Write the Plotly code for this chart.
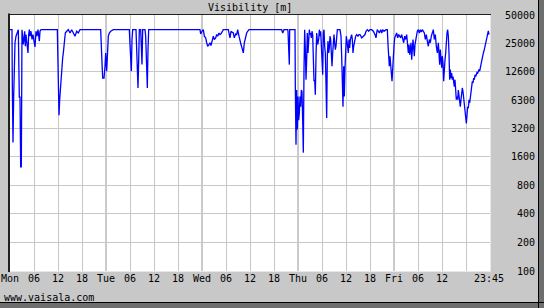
import plotly.graph_objects as go

# ---- data (hours since Mon 00:00, visibility in m) ----
hours = [
    0, 0.5, 0.58, 0.75, 0.92, 1.08, 1.25, 1.5, 1.83, 2.08,
    2.33, 2.5, 2.67, 2.83, 2.92, 3.0, 3.33, 3.5, 3.67, 3.83,
    4.0, 4.17, 4.33, 4.5, 4.67, 4.83, 5.0, 5.25, 5.5, 5.75,
    6.0, 6.25, 6.5, 6.75, 7.0, 7.33, 7.5, 7.75, 11.83, 11.92,
    12.08, 12.25, 12.42, 12.58, 12.75, 12.92, 13.17, 13.33, 13.58, 13.83,
    14.17, 14.58, 15.0, 15.42, 16.25, 16.67, 17.08, 17.5, 22.67, 22.83,
    23.0, 23.17, 23.5, 23.75, 23.92, 24.17, 24.33, 24.58, 24.83, 25.17,
    25.83, 29.83, 29.92, 30.08, 30.25, 30.33, 30.5, 30.67, 31.5, 31.67,
    31.92, 32.0, 32.17, 32.33, 32.67, 32.83, 33.0, 33.17, 33.75, 33.92,
    34.17, 34.33, 34.5, 34.67, 47.5, 47.67, 48.0, 48.33, 48.58, 48.92,
    49.17, 49.42, 49.67, 50.0, 50.25, 50.58, 50.83, 51.08, 51.42, 51.67,
    51.92, 52.25, 52.5, 52.75, 53.08, 53.33, 54.58, 54.67, 54.83, 55.0,
    55.25, 55.5, 55.83, 56.08, 56.42, 56.67, 56.92, 57.25, 57.5, 57.75,
    58.0, 58.33, 58.58, 58.83, 59.17, 59.42, 59.75, 67.92, 68.17, 68.5,
    69.42, 69.5, 69.67, 69.83, 69.92, 71.25, 71.33, 71.5, 71.67, 71.83,
    72.0, 72.17, 72.33, 72.5, 72.67, 72.83, 73.0, 73.17, 73.33, 73.5,
    73.67, 73.83, 74.0, 74.17, 74.33, 74.5, 74.67, 74.83, 75.0, 75.17,
    75.33, 75.5, 75.67, 75.83, 76.0, 76.17, 76.33, 76.5, 76.67, 76.92,
    77.17, 77.33, 77.5, 77.67, 77.83, 78.0, 78.17, 78.33, 78.5, 78.67,
    78.83, 79.0, 79.17, 79.33, 79.5, 79.67, 79.83, 80.0, 80.17, 80.33,
    80.5, 80.67, 80.83, 81.0, 81.17, 81.33, 81.5, 81.67, 81.83, 82.5,
    82.75, 82.92, 83.08, 83.25, 83.42, 83.58, 83.75, 83.92, 84.08, 84.25,
    84.42, 84.58, 84.75, 84.92, 85.08, 85.25, 85.42, 85.58, 85.75, 85.92,
    86.08, 86.25, 86.42, 86.67, 87.0, 87.25, 87.5, 87.92, 88.33, 88.75,
    89.0, 89.33, 89.67, 90.0, 90.42, 90.83, 91.25, 91.5, 91.67, 91.83,
    92.08, 92.33, 92.67, 92.92, 93.17, 93.5, 94.0, 94.33, 94.5, 94.67,
    94.83, 95.0, 95.17, 95.33, 95.5, 95.67, 95.83, 96.0, 96.17, 96.33,
    96.5, 96.67, 96.92, 97.17, 97.42, 97.67, 97.92, 98.17, 98.42, 98.67,
    98.92, 99.17, 99.42, 99.58, 99.75, 99.92, 100.08, 100.25, 100.42, 100.58,
    100.75, 100.92, 101.08, 101.25, 101.42, 101.58, 101.83, 102.08, 102.33, 102.58,
    102.83, 103.08, 103.33, 103.58, 103.83, 104.08, 104.33, 104.58, 104.83, 105.08,
    105.33, 105.58, 105.83, 106.08, 106.33, 106.58, 106.83, 107.08, 107.25, 107.42,
    107.58, 107.75, 107.92, 108.08, 108.25, 108.42, 108.58, 108.75, 108.92, 109.08,
    109.25, 109.42, 109.58, 109.75, 109.92, 110.08, 110.25, 110.42, 110.58, 110.75,
    110.92, 111.08, 111.25, 111.42, 111.58, 111.75, 111.92, 112.08, 112.25, 112.42,
    112.58, 112.75, 112.92, 113.08, 113.25, 113.42, 113.58, 113.75, 113.92, 114.08,
    114.25, 114.42, 114.58, 114.75, 114.92, 115.08, 115.25, 115.42, 115.58, 115.75,
    115.92, 116.08, 116.25, 116.42, 116.58, 116.75, 116.92, 117.08, 117.25, 117.42,
    117.58, 117.75, 117.92, 118.08, 118.25, 118.42, 118.58, 118.75, 118.92, 119.08,
    119.25, 119.42, 119.58, 119.75,
]
visibility = [
    35000, 35000, 9200, 2260, 6900, 19900, 25500, 29900, 33700, 35000,
    6800, 6800, 1250, 1250, 6800, 35000, 24400, 29900, 33700, 23400,
    31100, 26500, 19900, 19900, 31100, 35000, 29900, 33700, 27600, 31100,
    26500, 23000, 33700, 29900, 35000, 26500, 33700, 35000, 35000, 24400,
    12200, 4400, 6400, 8500, 8500, 12200, 17700, 19900, 25500, 32300,
    33700, 35000, 32300, 35000, 29900, 33700, 32300, 35000, 35000, 18400,
    15700, 10800, 10800, 14400, 19900, 12800, 19900, 29900, 32300, 33700,
    35000, 35000, 28700, 19900, 12800, 12800, 27600, 35000, 35000, 19900,
    13300, 8500, 16900, 35000, 35000, 23400, 15000, 35000, 35000, 29900,
    15700, 8500, 21600, 35000, 35000, 31600, 33700, 35000, 29900, 28700,
    25500, 23400, 24000, 25500, 23800, 26500, 29900, 27600, 28700, 31100,
    29900, 32300, 31100, 31600, 33000, 35000, 35000, 31100, 31100, 28700,
    33700, 33000, 32300, 28700, 31600, 31100, 35000, 29900, 25500, 24400,
    22500, 19900, 25500, 28700, 32300, 33700, 35000, 35000, 32300, 35000,
    35000, 33700, 22500, 15000, 35000, 35000, 8800, 2150, 8100, 3100,
    6900, 3900, 4600, 6900, 5400, 8100, 7800, 3900, 1770, 13300,
    35000, 21600, 10400, 16900, 32300, 19900, 33700, 35000, 31100, 32300,
    28700, 33700, 31100, 16900, 10000, 10400, 7200, 18400, 32300, 24400,
    27600, 35000, 29900, 33700, 19900, 16900, 11700, 32300, 35000, 23400,
    19900, 9600, 4100, 18400, 26500, 19900, 22500, 29900, 27600, 19900,
    14400, 19900, 27600, 31100, 25500, 21600, 23400, 27600, 35000, 35000,
    29900, 18400, 12200, 5400, 14400, 6900, 13900, 25500, 29900, 26500,
    23400, 19900, 27600, 22500, 27600, 29900, 31100, 27600, 19900, 23400,
    25500, 27600, 29900, 31100, 29900, 31100, 31100, 28700, 29900, 31100,
    33700, 35000, 33700, 35000, 35000, 33700, 31100, 28700, 32300, 35000,
    33700, 32300, 35000, 32300, 35000, 33700, 35000, 35000, 24400, 19900,
    14400, 18400, 13300, 12200, 10000, 13300, 19900, 23400, 28700, 29900,
    31100, 32300, 28700, 31100, 29900, 28700, 31100, 27600, 25500, 29900,
    27600, 31100, 23400, 19900, 24400, 19100, 21600, 25500, 16900, 23400,
    27600, 22500, 18400, 24400, 27600, 29900, 33700, 35000, 32300, 35000,
    33000, 35000, 33700, 32300, 27600, 31100, 26500, 23400, 27600, 25500,
    29900, 32300, 35000, 27600, 31100, 23400, 19900, 25500, 16900, 15000,
    21600, 16900, 13900, 18400, 15700, 10000, 14400, 16900, 19900, 27600,
    32300, 35000, 29900, 19900, 10400, 13300, 10800, 12200, 10400, 11200,
    9600, 8800, 10400, 8800, 6400, 6900, 6400, 8100, 6900, 6100,
    5400, 6400, 7500, 8500, 7800, 6900, 5900, 5200, 4200, 3600,
    4200, 5400, 5200, 6400, 5900, 6900, 7800, 8800, 10000, 9600,
    10800, 10400, 11700, 11200, 12200, 12400, 12200, 12800, 13300, 12800,
    14400, 15700, 16300, 17700, 19900, 20500, 21600, 23400, 24400, 26500,
    29900, 32300, 34000, 31100,
]

x_tick_hours = [0, 6, 12, 18, 24, 30, 36, 42, 48, 54, 60, 66, 72, 78, 84, 90,
                96, 102, 108, 114, 119.75]
x_tick_labels = ["Mon", "06", "12", "18", "Tue", "06", "12", "18", "Wed", "06",
                 "12", "18", "Thu", "06", "12", "18", "Fri", "06", "12", "",
                 "23:45"]
day_hours = [24, 48, 72, 96]
y_tick_values = [100, 200, 400, 800, 1600, 3200, 6300, 12600, 25000, 50000]
y_tick_labels = ["100", "200", "400", "800", "1600", "3200", "6300", "12600",
                 "25000", "50000"]
title_text = "Visibility [m]"
footer_text = "www.vaisala.com"

# ---- styling ----
import math
W, H = 544, 308
L, R, T, B = 10, 54, 15, 37
PW, PH = W - L - R, H - T - B
BG = "#c8c8c8"
GRID = "#c8c8c8"
DAYGRID = "#989898"
FONT = "DejaVu Sans Mono"


def px(xp):
    return (xp - L) / PW


def py(yp):
    return (H - B - yp) / PH


fig = go.Figure()
fig.add_trace(go.Scatter(x=hours, y=visibility, mode="lines",
                         line=dict(color="#0000ff", width=1.3),
                         hoverinfo="skip", showlegend=False))

pad = "\u00a0"
ylabels = [pad * (5 - len(s)) + s for s in y_tick_labels]

fig.update_layout(
    width=W, height=H,
    margin=dict(l=L, r=R, t=T, b=B, pad=0, autoexpand=False),
    paper_bgcolor=BG, plot_bgcolor="white",
    font=dict(family=FONT, size=10, color="black"),
    showlegend=False,
)
fig.update_xaxes(range=[0, 120], tickmode="array", tickvals=x_tick_hours,
                 ticktext=x_tick_labels, showgrid=True, gridcolor=GRID,
                 gridwidth=1, zeroline=False, showline=False, ticks="",
                 tickangle=0, automargin=False,
                 tickfont=dict(family=FONT, size=10, color="black"))
fig.update_yaxes(type="log", range=[2, math.log10(50000)], side="right",
                 tickmode="array", tickvals=y_tick_values, ticktext=ylabels,
                 showgrid=True, gridcolor=GRID, gridwidth=1, zeroline=False,
                 showline=False, ticks="outside", ticklen=12, tickcolor=BG,
                 automargin=False,
                 tickfont=dict(family=FONT, size=10, color="black"))

shapes = []
for d in day_hours:
    shapes.append(dict(type="line", xref="x", yref="paper", x0=d, x1=d,
                       y0=0, y1=1, line=dict(color=DAYGRID, width=1),
                       layer="below"))
# inset frame: dark top/left, light bottom/right
shapes.append(dict(type="line", xref="paper", yref="paper",
                   x0=px(9), x1=px(9), y0=py(272), y1=py(13.5),
                   line=dict(color="#202020", width=2)))
shapes.append(dict(type="line", xref="paper", yref="paper",
                   x0=px(8), x1=px(491), y0=py(14.5), y1=py(14.5),
                   line=dict(color="#202020", width=1)))
shapes.append(dict(type="line", xref="paper", yref="paper",
                   x0=px(490.5), x1=px(490.5), y0=py(271.5), y1=py(15),
                   line=dict(color="#e8e8e8", width=1)))
shapes.append(dict(type="line", xref="paper", yref="paper",
                   x0=px(10), x1=px(491), y0=py(271.5), y1=py(271.5),
                   line=dict(color="#e8e8e8", width=1)))
# drop-shadow borders
shapes.append(dict(type="rect", xref="paper", yref="paper",
                   x0=px(538), x1=px(545), y0=py(309), y1=py(-1),
                   fillcolor="#6e6e6e", line=dict(width=0)))
shapes.append(dict(type="rect", xref="paper", yref="paper",
                   x0=px(-1), x1=px(545), y0=py(309), y1=py(302),
                   fillcolor="#6e6e6e", line=dict(width=0)))
shapes.append(dict(type="line", xref="paper", yref="paper",
                   x0=px(538.5), x1=px(538.5), y0=py(308), y1=py(0),
                   line=dict(color="#000000", width=1)))
shapes.append(dict(type="line", xref="paper", yref="paper",
                   x0=px(0), x1=px(544), y0=py(302.5), y1=py(302.5),
                   line=dict(color="#000000", width=1)))
fig.update_layout(shapes=shapes)

fig.add_annotation(text=title_text, xref="paper", yref="paper",
                   x=px(250), y=py(7), xanchor="center", yanchor="middle",
                   showarrow=False, font=dict(family=FONT, size=10, color="black"))
fig.add_annotation(text=footer_text, xref="paper", yref="paper",
                   x=px(2), y=py(297), xanchor="left", yanchor="middle",
                   showarrow=False, font=dict(family=FONT, size=10, color="black"))

fig.write_html("out.html")
